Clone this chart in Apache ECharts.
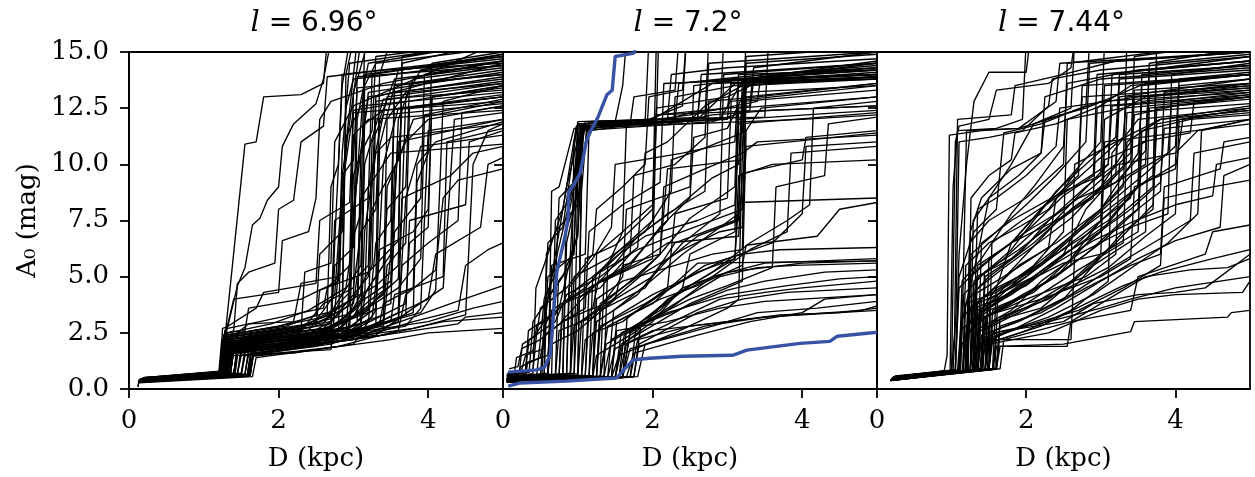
<!DOCTYPE html>
<html>
<head>
<meta charset="utf-8">
<script src="https://cdn.jsdelivr.net/npm/echarts@6/dist/echarts.min.js"></script>
<style>html,body{margin:0;padding:0;background:#fff;}#c{width:1255px;height:477px;}</style>
</head>
<body>
<div id="c"></div>
<script>
// ---- data (flat x,y pairs per line: D in kpc, A0 in mag) ----
const panelLongitudes = ['6.96', '7.2', '7.44'];
const xLabel = 'D (kpc)';
const yLabel = 'A\u2080 (mag)';

const p1Lines = [
[0.12,0.10,0.13,0.30,1.20,0.65,1.24,1.45,2.70,1.75,2.78,4.5,2.92,11.5,3.05,15.5],
[0.15,0.40,1.30,0.70,1.36,1.80,2.50,2.10,2.95,2.60,3.00,8.0,3.20,13.2,5.0,14.1],
[0.18,0.45,1.22,0.75,1.28,2.20,1.55,10.9,1.70,11.0,1.80,13.0,2.30,13.1,2.60,13.6,2.65,15.5],
[0.13,0.35,1.60,0.60,1.65,1.50,2.20,1.60,3.00,2.00,3.30,3.5,3.40,10.0,3.60,12.5,5.0,13.0],
[0.20,0.50,1.25,0.80,1.30,2.50,1.45,4.6,1.55,5.4,1.65,7.3,1.75,7.6,1.85,8.4,2.00,9.0,2.05,10.8,2.20,11.8,2.50,12.7,2.60,13.8,2.70,15.5],
[0.14,0.38,1.40,0.65,1.45,2.00,2.90,2.40,2.95,5.0,3.05,9.5,3.15,14.0,5.0,14.8],
[0.16,0.42,1.20,0.72,1.26,1.60,2.00,1.90,3.40,2.80,3.50,6.0,3.60,11.0,5.0,12.0],
[0.12,0.10,0.13,0.28,1.65,0.55,1.70,1.40,3.50,2.20,4.00,2.50,5.0,2.70],
[0.15,0.33,1.28,0.66,1.32,1.55,3.20,2.30,4.40,2.90,4.50,3.2,5.0,3.4],
[0.18,0.48,1.22,0.70,1.27,1.90,2.40,2.60,2.60,3.5,2.75,4.2,2.85,9.0,3.00,12.4,5.0,13.5],
[0.13,0.40,1.35,0.75,1.38,2.30,1.60,2.9,2.20,3.0,2.30,4.7,2.80,5.0,2.85,9.5,3.10,15.5],
[0.17,0.36,1.50,0.70,1.56,1.70,2.80,2.10,3.10,2.60,3.15,7.0,3.30,10.5,3.50,11.2,5.0,11.8],
[0.14,0.45,1.25,0.78,1.30,2.40,2.00,2.8,2.60,3.2,3.00,4.0,3.05,12.0,3.20,14.5,5.0,15.5],
[0.19,0.50,1.30,0.72,1.34,1.65,3.00,2.20,3.60,3.00,3.70,8.5,3.90,10.8,5.0,11.3],
[0.12,0.30,1.28,0.65,1.33,1.95,2.70,2.45,2.75,6.5,2.85,13.5,2.95,15.5],
[0.15,0.42,1.22,0.70,1.25,2.70,1.30,2.75,1.70,3.6,1.80,4.3,2.50,4.7,2.55,7.5,2.95,8.3,3.00,12.3,5.0,12.8],
[0.16,0.38,1.45,0.68,1.50,1.50,3.30,2.40,3.80,3.6,4.20,4.5,4.30,9.5,4.60,10.5,5.0,10.8],
[0.13,0.35,1.25,0.70,1.30,1.80,2.20,2.10,2.70,3.0,3.20,5.0,3.30,13.0,5.0,14.5],
[0.20,0.46,1.35,0.74,1.40,2.10,2.50,2.50,3.50,3.80,3.60,12.0,3.80,13.8,5.0,14.3],
[0.14,0.40,1.60,0.62,1.68,1.70,2.60,2.00,2.90,3.0,3.10,4.2,3.15,10.0,3.40,12.9,5.0,13.3],
[0.17,0.44,1.25,0.76,1.28,2.00,2.00,2.3,2.90,2.7,3.40,3.3,3.45,5.5,3.70,6.5,3.75,12.5,5.0,13.0],
[0.12,0.32,1.30,0.66,1.35,1.60,3.80,2.70,4.50,3.3,4.60,10.0,4.80,11.5,5.0,11.8],
[0.15,0.40,1.20,0.70,1.24,2.20,2.30,2.6,2.35,5.2,2.70,5.6,2.75,11.0,3.00,12.6,5.0,15.5],
[0.18,0.48,1.40,0.70,1.45,1.70,2.40,2.0,2.80,2.5,2.85,9.5,3.00,10.2,3.05,13.4,5.0,14.0],
[0.13,0.36,1.28,0.72,1.32,2.35,1.60,2.5,2.40,2.9,3.30,4.6,3.35,14.0,3.50,15.5],
[0.16,0.42,1.25,0.68,1.29,1.80,3.10,2.6,4.00,4.0,4.10,6.0,4.70,7.2,4.80,10.0,5.0,10.3],
[0.14,0.38,1.55,0.66,1.60,1.55,2.90,2.2,3.00,4.0,3.25,5.5,3.30,12.8,5.0,13.6],
[0.19,0.50,1.27,0.78,1.30,2.60,1.40,4.0,2.00,4.3,2.05,6.6,2.40,7.0,2.50,8.5,2.55,12.0,2.70,12.8,3.40,13.6,5.0,14.6],
[0.12,0.30,1.62,0.58,1.66,1.45,2.80,1.90,3.60,2.60,3.70,4.2,4.10,5.3,4.20,8.5,4.40,9.3,5.0,9.8],
[0.15,0.44,1.30,0.70,1.33,1.90,2.50,2.30,3.00,3.5,3.50,6.0,3.55,13.2,5.0,13.8],
[0.17,0.40,1.22,0.74,1.27,2.10,2.10,2.5,2.70,3.2,2.75,7.5,3.20,8.5,3.25,14.0,5.0,14.9],
[0.13,0.34,1.35,0.66,1.40,1.70,3.20,2.50,3.80,3.2,4.30,3.8,5.0,4.6],
[0.16,0.45,1.26,0.72,1.31,2.20,2.60,2.7,2.95,3.8,3.00,11.3,3.20,12.0,5.0,12.4],
[0.14,0.38,1.45,0.68,1.50,1.85,2.70,2.3,3.40,3.0,3.45,9.0,3.70,11.0,4.00,12.0,5.0,12.6],
[0.18,0.46,1.24,0.76,1.28,2.50,1.55,2.6,1.60,3.6,2.30,4.0,2.80,4.8,2.85,10.5,2.95,14.5,5.0,15.5],
[0.12,0.32,1.28,0.64,1.32,1.75,3.00,2.30,3.30,2.8,3.35,10.8,3.60,14.2,5.0,14.7],
[0.15,0.42,1.32,0.72,1.36,2.00,2.40,2.4,3.10,3.4,3.60,4.5,3.90,5.8,3.95,12.2,5.0,12.9],
[0.17,0.40,1.58,0.62,1.63,1.60,2.50,1.90,3.00,2.5,3.70,3.3,3.75,7.5,4.50,8.2,4.55,11.0,5.0,11.5],
[0.13,0.36,1.21,0.70,1.25,1.70,1.90,1.95,2.85,2.6,2.90,14.0,3.00,15.5],
[0.19,0.48,1.29,0.74,1.34,2.30,2.20,2.70,2.90,3.3,3.15,4.0,3.20,9.0,3.45,13.0,5.0,13.7],
[0.14,0.40,1.40,0.68,1.44,1.60,2.30,2.0,3.70,2.80,3.90,3.6,4.00,11.5,5.0,12.0],
[0.16,0.44,1.23,0.75,1.27,2.00,2.30,2.6,2.60,3.8,3.00,4.5,3.10,7.0,3.30,8.0,3.35,12.0,3.55,13.8,5.0,14.4],
[0.12,0.30,1.50,0.60,1.55,1.50,3.40,2.40,4.20,3.0,5.0,3.2],
[0.15,0.38,1.26,0.70,1.30,2.10,2.00,2.4,2.60,2.9,3.10,5.5,3.15,11.8,3.40,12.4,5.0,13.1],
[0.17,0.42,1.30,0.72,1.35,1.90,2.40,2.3,3.20,3.0,3.30,6.5,3.50,7.5,3.55,13.5,5.0,14.0],
[0.13,0.34,1.22,0.68,1.26,2.40,1.40,2.6,1.45,4.7,1.60,5.2,1.95,5.6,2.00,8.0,2.20,8.4,2.30,11.0,2.60,11.7,2.65,13.9,3.40,14.2,5.0,14.5],
[0.18,0.46,1.36,0.70,1.40,1.80,2.80,2.3,3.05,3.0,3.10,8.5,3.30,9.5,3.50,10.5,5.0,10.9],
[0.14,0.40,1.28,0.74,1.32,2.20,2.50,2.8,2.55,4.4,3.20,5.2,3.60,6.6,3.65,14.8,5.0,15.5],
[0.16,0.36,1.62,0.64,1.67,1.75,2.40,2.0,3.90,3.4,4.10,4.4,4.20,12.8,5.0,13.5],
[0.20,0.50,1.24,0.78,1.28,2.60,1.32,2.7,2.60,3.6,2.65,4.5,2.95,5.5,3.00,13.2,3.20,15.5],
[0.14,0.40,1.27,0.70,1.31,2.00,2.60,2.5,3.00,3.2,3.20,4.5,3.40,5.5,3.45,8.0,3.70,9.0,3.75,13.6,5.0,14.2],
[0.16,0.44,1.33,0.72,1.37,1.90,2.80,2.4,3.30,3.6,3.35,6.2,3.80,7.0,4.00,8.0,4.05,13.0,5.0,13.4],
[0.13,0.36,1.25,0.68,1.29,2.20,2.20,2.7,2.85,3.5,2.90,12.5,3.00,13.8,5.0,14.6],
[0.18,0.48,1.60,0.66,1.64,1.80,2.90,2.5,3.25,3.2,3.30,4.6,3.60,5.5,3.65,14.5,5.0,15.5],
[0.15,0.38,1.30,0.70,1.34,1.70,2.40,2.2,3.10,2.9,3.15,4.0,3.50,4.8,3.55,9.8,3.80,12.0,5.0,12.8],
[0.12,0.32,1.24,0.66,1.28,2.30,1.90,2.6,2.70,3.0,2.75,5.5,3.00,6.3,3.05,13.9,5.0,14.4],
[0.17,0.42,1.45,0.70,1.50,1.60,2.60,2.1,3.60,3.1,3.65,5.5,4.00,6.5,4.40,7.5,4.45,12.3,5.0,12.6],
[0.14,0.38,1.28,0.72,1.32,2.50,1.90,2.9,2.40,3.5,2.90,4.5,3.00,6.8,3.10,7.8,3.15,15.5],
[0.19,0.46,1.35,0.74,1.39,2.10,2.80,2.6,3.20,3.9,3.50,4.6,3.55,7.0,3.90,8.5,3.95,14.0,5.0,14.6],
[0.13,0.34,1.62,0.62,1.66,1.60,3.00,2.20,3.80,3.00,4.40,3.5,4.50,5.5,4.80,6.2,5.0,6.5],
[0.16,0.40,1.25,0.70,1.30,1.90,2.30,2.3,2.95,3.1,3.40,4.2,3.45,12.0,3.70,13.2,5.0,13.6],
[0.15,0.42,1.30,0.74,1.34,2.20,2.70,2.7,3.05,3.6,3.10,10.5,3.25,11.5,3.30,14.8,5.0,15.5],
[0.12,0.30,1.40,0.64,1.45,1.70,2.90,2.3,3.50,3.0,3.55,4.2,4.20,5.0,4.25,11.0,5.0,11.6],
[0.18,0.46,1.23,0.76,1.27,2.40,2.10,2.8,2.50,3.3,2.55,6.0,2.85,7.0,2.90,11.2,3.10,12.6,5.0,13.2],
[0.14,0.36,1.55,0.66,1.60,1.80,3.10,2.6,3.60,3.4,3.70,13.0,3.90,14.2,5.0,14.9],
[0.16,0.44,1.28,0.72,1.32,2.10,2.60,2.6,3.20,3.5,3.25,8.0,3.40,9.0,3.60,10.2,3.65,12.5,5.0,13.0],
[0.13,0.38,1.35,0.68,1.40,1.60,2.40,2.0,3.35,2.9,3.40,3.8,3.80,4.5,3.85,10.0,4.10,11.0,5.0,11.9],
[0.17,0.40,1.22,0.74,1.26,2.00,1.80,2.4,2.70,2.9,2.80,3.8,2.95,4.3,3.00,9.5,3.10,10.5,3.20,13.0,5.0,13.9],
[0.15,0.36,1.50,0.68,1.55,1.75,2.80,2.3,3.70,3.8,3.75,6.5,4.00,7.2,4.05,13.0,5.0,13.5],
[0.19,0.48,1.26,0.76,1.30,2.30,2.50,2.9,3.00,3.8,3.05,5.0,3.20,5.5,3.25,11.0,3.40,12.2,5.0,12.7],
[0.13,0.34,1.30,0.66,1.35,1.80,2.90,2.4,3.10,2.8,3.15,13.5,3.30,14.5,5.0,15.2],
[0.16,0.42,1.42,0.70,1.47,2.00,3.00,2.8,3.30,4.0,3.60,4.9,3.65,8.5,4.30,9.5,4.35,12.0,5.0,12.3],
[0.14,0.40,1.27,0.72,1.31,2.40,2.00,2.8,2.65,3.4,2.70,9.0,2.80,10.0,2.85,14.0,5.0,14.8],
[0.18,0.44,1.36,0.72,1.40,1.90,3.30,2.8,3.80,3.4,3.85,9.2,4.00,10.5,4.05,14.5,5.0,15.0],
[0.12,0.30,1.58,0.60,1.62,1.50,2.70,2.0,3.20,2.6,4.00,3.0,4.60,3.6,5.0,3.9]
];

const p2Lines = [
[0.05,0.35,0.55,0.50,0.58,3.5,0.62,4.5,0.90,8.5,1.05,11.6,2.60,12.0,2.65,13.7,5.0,14.2],
[0.06,0.40,0.85,0.55,0.90,6.0,1.00,11.8,2.05,11.9,2.08,15.5],
[0.08,0.90,0.20,1.00,0.25,1.80,0.50,2.2,0.55,4.0,0.75,5.5,0.95,9.0,1.10,11.7,3.00,12.0,3.05,13.8,5.0,14.0],
[0.05,0.30,1.50,0.50,1.60,2.0,2.00,3.0,2.40,4.5,2.50,6.0,3.10,7.0,3.15,12.5,5.0,13.0],
[0.07,0.45,1.20,0.55,1.25,1.50,1.80,2.60,2.20,4.0,2.80,5.0,3.50,5.6,5.0,5.8],
[0.05,0.50,0.60,0.60,0.65,5.5,1.10,6.0,1.15,11.5,1.80,11.8,2.40,12.6,2.45,15.5],
[0.06,0.38,1.60,0.55,1.70,1.80,2.80,2.8,3.40,3.4,4.20,3.6,5.0,3.9],
[0.08,0.60,0.40,0.80,0.45,2.5,0.55,3.0,0.60,6.5,0.80,7.2,1.00,11.9,3.20,12.1,3.25,15.5],
[0.05,0.32,1.45,0.50,1.55,1.5,2.30,2.5,3.00,3.6,3.15,4.0,3.20,10.5,3.40,11.0,5.0,11.3],
[0.06,0.42,0.70,0.55,0.75,2.6,1.20,3.2,1.60,5.0,1.65,8.0,2.50,9.0,2.55,13.5,5.0,14.5],
[0.07,0.35,1.50,0.52,1.58,2.5,2.20,3.4,3.00,4.2,3.80,4.6,4.50,4.9,5.0,5.0],
[0.05,0.55,0.95,0.70,1.00,9.5,1.08,11.8,2.40,11.9,2.80,12.2,3.60,12.4,5.0,12.6],
[0.08,0.45,1.20,0.60,1.25,3.0,1.80,4.2,2.10,5.5,2.60,6.8,3.15,7.5,3.20,13.8,5.0,14.3],
[0.06,0.30,1.70,0.52,1.80,2.2,2.50,2.8,3.50,3.2,5.0,3.5],
[0.05,0.40,0.52,0.55,0.56,3.8,0.70,4.6,0.75,8.5,0.95,9.2,1.05,11.7,1.90,11.9,1.95,15.5],
[0.07,0.50,1.10,0.62,1.15,4.5,1.70,5.5,2.10,7.2,2.50,8.5,2.55,11.2,3.00,11.6,3.30,13.7,5.0,14.0],
[0.06,0.36,1.30,0.55,1.40,2.8,2.00,3.8,2.60,5.6,5.0,5.7],
[0.05,0.65,0.30,0.80,0.35,2.2,0.70,3.0,0.85,4.2,1.30,5.0,1.80,6.3,1.90,10.5,2.20,11.0,2.70,12.6,3.20,13.5,5.0,13.8],
[0.08,0.38,1.55,0.55,1.65,2.0,2.40,3.2,2.90,4.0,3.50,4.3,4.00,4.5,5.0,4.8],
[0.05,0.45,0.80,0.60,0.85,6.5,0.95,8.0,1.05,11.5,1.40,11.7,2.90,12.0,2.95,15.5],
[0.06,0.33,1.25,0.52,1.30,3.5,1.90,4.5,2.30,6.5,3.10,7.5,3.15,11.8,5.0,12.3],
[0.07,0.55,0.60,0.70,0.65,2.0,1.00,2.6,1.50,4.0,1.60,5.5,2.10,6.0,2.20,9.8,3.20,10.2,3.25,13.8,5.0,14.6],
[0.05,0.30,1.60,0.50,1.70,2.5,2.20,3.5,2.80,5.0,3.30,6.2,3.80,7.0,3.85,10.5,5.0,10.8],
[0.06,0.42,1.05,0.58,1.10,5.8,1.50,6.4,2.00,8.0,2.05,15.5],
[0.08,0.48,0.90,0.62,0.95,11.0,1.00,11.7,2.10,11.9,2.50,12.3,3.30,12.6,3.35,14.3,5.0,15.0],
[0.05,0.36,1.40,0.54,1.50,1.8,2.00,2.6,3.00,3.0,3.70,3.3,4.50,3.4,5.0,3.6],
[0.07,0.40,1.20,0.58,1.25,4.0,1.60,4.8,2.20,5.4,2.80,6.0,3.20,6.2,3.25,13.5,5.0,13.9],
[0.06,0.70,0.25,0.85,0.30,1.5,0.55,1.8,0.60,5.0,0.95,6.0,1.00,11.8,2.20,12.0,2.25,14.0,3.00,14.3,5.0,14.7],
[0.05,0.34,1.75,0.55,1.85,3.0,2.50,4.6,3.10,5.8,3.15,9.5,3.60,10.0,5.0,10.2],
[0.08,0.45,1.15,0.60,1.20,2.5,1.60,3.0,2.20,4.5,2.30,7.8,3.00,8.5,3.05,12.8,5.0,13.5],
[0.06,0.52,0.65,0.65,0.70,7.5,0.90,8.5,1.10,11.9,3.50,12.1,3.55,15.5],
[0.05,0.38,1.35,0.55,1.45,2.2,2.10,3.5,2.40,4.5,3.00,5.2,4.00,5.6,5.0,5.7],
[0.07,0.42,0.75,0.58,0.80,3.8,1.30,4.5,1.70,6.0,1.75,9.5,2.30,10.0,2.70,11.2,2.75,14.5,5.0,15.0],
[0.05,0.30,1.65,0.52,1.75,1.6,2.60,2.4,3.30,3.0,4.00,3.4,4.30,4.0,5.0,4.2],
[0.06,0.55,1.00,0.68,1.05,8.8,1.12,11.7,1.70,11.8,1.75,13.0,2.30,13.3,2.35,15.5],
[0.08,0.36,1.25,0.54,1.30,2.8,1.90,3.8,2.60,5.2,3.10,5.8,3.15,8.3,5.0,8.5],
[0.05,0.44,0.50,0.58,0.55,2.8,0.62,3.2,0.65,8.8,0.75,9.0,0.95,11.6,4.00,12.0,5.0,12.2],
[0.07,0.33,1.50,0.52,1.58,2.0,2.50,3.8,3.20,4.8,3.25,11.5,3.45,12.5,5.0,13.0],
[0.06,0.48,1.10,0.60,1.15,3.5,1.50,4.0,2.00,5.0,2.40,6.5,2.90,7.8,2.95,14.0,5.0,14.5],
[0.05,0.40,0.90,0.56,0.95,5.0,1.40,5.8,1.90,7.0,2.25,8.8,2.30,13.0,3.10,13.5,5.0,13.9],
[0.08,0.50,0.45,0.62,0.50,2.2,0.80,3.0,1.20,3.6,1.30,5.2,1.80,6.2,2.40,7.0,3.20,8.0,3.25,13.0,5.0,13.6],
[0.06,0.35,1.60,0.54,1.70,2.6,2.30,4.2,2.80,5.2,3.30,6.5,3.80,7.5,4.10,8.2,4.15,12.5,5.0,12.8],
[0.05,0.46,1.00,0.60,1.05,10.0,1.15,11.9,2.70,12.1,2.75,15.5],
[0.07,0.38,1.30,0.56,1.35,4.8,1.80,5.6,2.20,6.5,3.15,6.8,3.20,9.6,4.00,10.2,4.05,11.2,5.0,11.5],
[0.06,0.42,0.85,0.60,0.88,4.5,1.20,5.8,1.45,7.2,1.50,10.0,2.40,10.5,3.10,11.0,3.15,14.0,5.0,14.2],
[0.05,0.32,1.80,0.55,1.90,2.0,2.70,2.8,3.50,3.2,4.80,3.5,5.0,3.7],
[0.08,0.60,0.35,0.75,0.40,3.0,0.60,4.0,0.85,9.0,1.05,11.8,1.50,11.9,1.60,13.5,1.65,15.5],
[0.06,0.40,1.20,0.56,1.25,6.0,1.60,7.0,2.00,8.2,2.05,12.5,3.00,13.0,3.50,13.8,5.0,14.0],
[0.05,0.36,1.45,0.55,1.52,3.0,2.10,4.0,2.60,4.6,3.20,5.5,3.25,6.4,4.20,6.8,4.50,8.0,5.0,8.3],
[0.07,0.48,0.60,0.62,0.63,4.2,0.80,5.0,1.00,6.8,1.05,11.5,2.80,11.9,3.30,12.4,3.35,13.7,5.0,13.8],
[0.06,0.50,0.15,0.60,0.18,1.4,0.40,1.7,0.45,2.8,0.70,3.4,1.00,4.5,1.40,5.5,1.60,7.0,1.65,11.8,2.60,12.0,3.10,13.6,5.0,13.8],
[0.05,0.42,0.30,0.55,0.33,1.2,0.60,1.5,0.65,3.5,1.10,4.5,1.50,6.0,2.00,7.5,2.05,12.2,5.0,12.6],
[0.07,0.38,1.40,0.52,1.48,3.5,1.90,4.6,2.40,6.0,2.90,7.2,3.15,7.8,3.20,12.8,5.0,13.3],
[0.05,0.60,0.20,0.70,0.24,1.0,0.50,1.4,0.55,2.4,0.80,3.0,1.10,3.6,1.15,7.0,1.60,8.2,2.10,9.2,2.15,13.6,5.0,14.0],
[0.06,0.34,1.55,0.52,1.62,2.4,2.30,3.8,2.90,5.0,3.40,5.4,3.90,5.5,5.0,5.6],
[0.08,0.45,0.70,0.58,0.74,4.8,0.90,5.5,1.00,7.0,1.08,11.6,2.30,11.9,2.35,13.6,3.20,13.9,5.0,14.4],
[0.05,0.40,1.00,0.58,1.05,3.0,1.40,3.8,1.90,5.2,2.40,6.2,2.90,7.0,3.20,7.2,3.25,10.8,5.0,11.4],
[0.07,0.52,0.55,0.64,0.58,6.0,0.70,7.0,1.00,8.2,1.08,11.8,2.00,12.0,2.80,13.6,5.0,13.9],
[0.06,0.36,1.70,0.54,1.78,2.8,2.50,4.0,3.00,4.6,3.60,5.4,3.65,9.0,4.30,9.5,4.35,11.8,5.0,12.1],
[0.05,0.44,0.95,0.60,1.00,4.0,1.30,4.8,1.70,5.6,2.20,7.5,2.25,10.2,2.60,10.6,3.20,11.4,3.25,14.8,5.0,15.2],
[0.08,0.70,0.22,0.80,0.26,2.0,0.45,2.4,0.50,3.6,0.85,4.5,1.20,6.0,1.25,8.0,1.60,9.0,1.90,10.0,1.95,13.0,2.40,13.3,2.45,15.5],
[0.06,0.38,1.30,0.56,1.38,2.0,1.80,2.8,2.40,3.6,3.00,4.4,3.50,4.8,4.30,5.2,5.0,5.3],
[0.05,0.48,0.75,0.60,0.78,3.0,1.00,3.8,1.35,5.0,1.80,6.8,2.30,8.0,2.80,9.4,3.15,10.0,3.20,13.2,5.0,13.5],
[0.07,0.42,1.15,0.58,1.20,5.0,1.55,6.0,1.90,6.8,2.60,7.5,3.10,8.2,3.15,12.0,4.50,12.3,5.0,12.4],
[0.06,0.55,0.40,0.68,0.44,4.5,0.60,6.0,0.80,8.0,0.98,11.7,2.20,11.8,2.60,12.0,2.65,14.0,5.0,14.5],
[0.05,0.35,1.60,0.54,1.66,3.2,2.20,4.4,2.70,5.5,3.20,6.0,3.70,6.2,5.0,6.3],
[0.08,0.46,0.90,0.60,0.95,2.8,1.20,3.4,1.70,4.8,2.10,6.0,2.50,7.6,3.10,9.0,3.15,13.8,5.0,14.2],
[0.06,0.40,1.25,0.56,1.30,3.8,1.80,5.0,2.10,6.0,2.15,9.0,2.70,9.8,3.20,10.5,3.25,14.5,5.0,14.9],
[0.05,0.62,0.30,0.74,0.34,2.6,0.60,3.2,0.90,4.0,1.20,4.6,1.60,5.2,2.00,5.8,2.05,12.2,3.00,12.5,3.05,13.6,5.0,13.9],
[0.07,0.36,1.45,0.54,1.52,2.6,2.20,3.0,2.90,3.6,3.50,3.9,4.50,4.1,5.0,4.2],
[0.06,0.50,0.80,0.62,0.84,7.0,0.98,8.5,1.06,11.7,1.60,11.8,2.50,12.2,3.40,12.8,3.45,14.0,5.0,14.3],
[0.05,0.40,1.05,0.58,1.10,2.2,1.50,3.2,2.00,4.2,2.50,5.0,3.00,5.8,3.60,6.5,4.00,7.8,4.05,10.8,5.0,11.0],
[0.08,0.44,1.35,0.58,1.40,5.5,1.70,6.5,2.20,7.8,2.70,8.8,2.75,12.8,3.40,13.0,5.0,13.6],
[0.06,0.32,1.75,0.54,1.82,2.0,2.60,3.4,3.20,4.0,3.80,4.3,5.0,4.5],
[0.05,0.58,0.60,0.66,0.64,3.0,0.75,3.6,0.95,6.5,1.02,11.8,2.90,12.0,3.20,13.7,5.0,14.1]
];

const p3Lines = [
[0.20,0.45,0.90,0.80,0.94,1.5,0.97,11.3,1.40,11.5,1.90,11.6,2.40,12.8,2.45,14.5,5.0,15.0],
[0.22,0.55,1.10,0.85,1.15,4.0,1.20,11.5,1.90,11.6,2.30,12.0,3.00,12.8,5.0,13.2],
[0.18,0.40,1.25,0.80,1.30,3.0,1.60,4.5,1.80,6.5,2.20,8.0,2.70,9.5,2.75,13.0,5.0,13.5],
[0.20,0.50,1.40,0.90,1.45,2.0,2.00,2.6,2.60,3.5,3.10,4.8,3.15,10.5,3.50,12.0,5.0,12.5],
[0.25,0.58,1.05,0.85,1.10,6.0,1.20,10.0,1.30,12.8,1.50,14.1,2.00,14.1,2.05,15.5],
[0.19,0.42,1.50,0.85,1.55,2.2,2.60,2.2,2.65,6.0,3.00,7.0,3.50,9.0,3.55,13.5,5.0,14.0],
[0.21,0.52,1.20,0.82,1.25,5.0,1.60,6.0,2.00,7.0,2.50,8.6,2.90,9.5,2.95,14.0,5.0,14.6],
[0.18,0.38,1.60,0.90,1.65,1.9,2.55,1.9,2.60,3.0,3.40,3.5,3.50,5.0,4.40,6.0,4.50,7.0,5.0,7.3],
[0.22,0.50,1.30,0.85,1.35,3.5,1.90,4.5,2.50,6.0,2.80,8.0,3.20,9.5,3.25,13.0,5.0,13.8],
[0.20,0.46,1.15,0.80,1.20,2.5,1.50,3.3,2.20,4.0,3.00,5.0,3.40,5.8,3.45,9.0,4.00,9.8,4.10,12.0,5.0,12.5],
[0.24,0.56,1.00,0.82,1.05,11.0,1.10,11.7,1.50,12.0,1.60,13.3,2.30,13.6,2.60,14.3,2.65,15.5],
[0.19,0.44,1.45,0.88,1.50,2.8,2.00,3.8,2.70,5.3,3.30,6.5,3.35,11.0,3.80,12.0,5.0,12.6],
[0.21,0.48,1.25,0.80,1.30,4.2,1.70,5.0,2.30,6.3,2.40,8.5,3.10,10.0,3.15,14.0,5.0,14.8],
[0.18,0.40,1.55,0.86,1.60,1.9,2.50,2.0,3.40,2.55,3.45,3.0,4.70,3.2,4.75,3.4,5.0,3.5],
[0.23,0.54,1.10,0.84,1.14,3.0,1.35,6.0,1.50,8.5,1.80,10.0,2.10,11.8,2.60,12.5,2.65,15.5],
[0.20,0.45,1.35,0.85,1.40,2.4,1.90,3.0,2.50,4.0,2.90,5.5,3.30,7.0,3.70,8.0,3.75,12.5,5.0,13.0],
[0.19,0.42,1.30,0.82,1.35,5.5,1.80,6.5,2.40,7.5,2.90,8.5,2.95,12.5,3.40,13.5,5.0,14.0],
[0.22,0.50,1.50,0.88,1.55,2.5,2.50,3.0,2.90,3.8,3.50,4.2,4.00,4.3,4.40,4.5,5.0,6.0],
[0.21,0.47,1.20,0.80,1.25,7.0,1.40,8.5,1.80,9.8,2.20,10.5,2.25,13.0,3.00,13.8,5.0,14.3],
[0.18,0.38,1.65,0.90,1.70,2.2,2.60,3.0,3.10,4.0,3.60,5.0,4.20,5.3,4.70,5.4,5.0,5.8],
[0.24,0.55,1.05,0.84,1.10,4.5,1.40,5.5,1.80,6.5,2.20,8.0,2.60,9.5,3.00,11.0,3.05,15.5],
[0.20,0.44,1.40,0.86,1.45,3.2,2.00,4.0,2.80,5.0,3.20,6.0,3.25,10.0,4.00,10.5,4.30,11.5,5.0,12.0],
[0.19,0.41,1.28,0.82,1.32,2.6,1.80,3.5,2.20,4.8,2.70,6.0,3.40,7.2,3.90,7.8,3.95,14.0,5.0,14.5],
[0.22,0.52,1.15,0.82,1.19,3.8,1.60,4.3,2.10,5.5,2.50,7.0,2.55,12.0,3.30,12.5,5.0,13.0],
[0.21,0.48,1.45,0.87,1.50,2.0,2.30,2.5,3.00,3.5,3.50,4.0,4.00,4.2,4.90,4.3,5.0,4.8],
[0.18,0.40,1.20,0.80,1.24,6.5,1.50,7.5,2.00,8.5,2.50,10.0,2.55,14.5,5.0,15.5],
[0.23,0.54,1.35,0.86,1.40,4.0,1.90,5.0,2.40,6.0,2.80,7.0,3.40,8.5,3.45,13.3,5.0,13.6],
[0.20,0.45,1.60,0.90,1.65,2.8,2.20,3.4,2.80,4.5,3.40,5.5,3.80,6.0,3.85,9.0,4.60,9.8,4.65,11.0,5.0,11.2],
[0.19,0.43,1.10,0.80,1.14,2.0,1.30,2.8,1.35,8.0,1.60,8.5,2.00,9.5,2.40,10.8,2.45,12.5,3.50,13.0,5.0,13.3],
[0.22,0.50,1.25,0.84,1.30,3.0,1.80,3.8,2.40,5.0,3.00,6.5,3.50,8.0,3.55,11.5,4.20,12.0,5.0,12.2],
[0.21,0.47,1.50,0.88,1.55,3.5,2.10,4.3,2.60,5.8,3.00,7.5,3.05,12.0,3.60,13.0,5.0,13.6],
[0.18,0.38,1.30,0.82,1.35,2.2,1.70,2.6,2.30,3.0,3.00,3.6,3.40,4.0,4.00,4.5,4.60,4.8,5.0,5.0],
[0.24,0.56,0.98,0.84,1.02,9.0,1.08,11.5,1.60,11.6,1.95,12.0,2.00,15.5],
[0.20,0.44,1.40,0.86,1.45,5.0,1.90,6.0,2.30,7.5,2.80,9.0,3.20,10.0,3.25,13.8,5.0,14.2],
[0.19,0.42,1.20,0.80,1.25,3.5,1.60,4.0,2.00,5.2,2.60,6.8,3.00,8.0,3.50,10.5,3.55,12.8,5.0,13.3],
[0.22,0.50,1.55,0.88,1.60,4.5,2.20,5.5,2.70,7.0,3.30,8.5,3.70,9.5,3.75,14.5,5.0,14.9],
[0.21,0.48,1.15,0.82,1.20,2.8,1.50,3.5,2.00,4.2,2.60,5.5,2.65,10.0,3.20,11.0,3.80,12.0,5.0,12.4],
[0.18,0.40,1.35,0.84,1.40,6.5,1.80,7.5,2.50,8.8,3.00,9.5,3.05,13.5,5.0,14.0],
[0.23,0.53,1.45,0.86,1.50,2.5,2.00,3.2,2.60,4.2,3.20,5.5,3.70,6.5,4.20,7.5,4.25,10.5,5.0,11.0],
[0.20,0.46,1.05,0.82,1.10,5.0,1.30,7.0,1.60,8.0,1.70,11.4,2.20,11.8,2.80,12.6,2.85,15.5],
[0.19,0.41,1.30,0.84,1.35,3.8,1.80,4.5,2.40,6.0,3.10,7.5,3.50,9.0,4.00,10.0,4.05,13.5,5.0,13.8],
[0.22,0.52,1.60,0.90,1.65,3.2,2.30,4.0,2.90,5.5,3.60,7.0,3.65,12.5,5.0,13.0],
[0.21,0.48,1.25,0.82,1.30,4.8,1.70,5.8,2.10,7.0,2.70,8.5,3.20,9.2,3.60,10.0,3.65,14.5,5.0,15.2],
[0.18,0.38,1.40,0.85,1.45,2.2,2.00,2.8,2.70,3.5,3.30,4.5,3.80,5.5,3.85,8.5,4.50,9.0,5.0,9.3],
[0.24,0.55,1.00,0.83,1.04,2.5,1.08,12.0,1.80,12.2,1.85,13.5,2.50,14.0,3.20,14.6,5.0,15.0],
[0.20,0.45,1.50,0.88,1.55,3.0,2.20,3.6,2.70,5.0,3.20,6.5,3.70,8.2,3.75,11.8,4.40,12.2,5.0,12.4],
[0.19,0.42,1.18,0.80,1.22,4.0,1.50,5.0,2.10,6.5,2.60,8.0,3.00,9.0,3.40,11.0,3.45,13.0,5.0,13.4],
[0.22,0.50,1.35,0.86,1.40,3.4,1.90,4.6,2.50,5.6,3.00,6.0,3.05,11.0,5.0,11.8],
[0.21,0.47,1.45,0.86,1.50,5.8,2.00,7.0,2.50,8.0,2.90,9.0,3.40,10.5,3.45,14.8,5.0,15.5],
[0.18,0.40,1.10,0.80,1.14,3.2,1.40,4.0,1.90,5.5,2.40,6.5,3.00,8.0,3.30,9.0,3.35,12.3,5.0,12.7],
[0.21,0.48,1.12,0.82,1.16,4.2,1.45,5.2,1.80,6.2,2.10,7.5,2.40,8.8,2.80,10.0,3.20,11.2,3.25,14.0,5.0,14.4],
[0.19,0.42,1.32,0.84,1.36,3.0,1.70,3.6,2.20,4.6,2.80,6.0,3.30,7.5,3.80,8.8,3.85,13.2,5.0,13.6],
[0.23,0.54,1.22,0.82,1.26,6.0,1.60,7.0,2.00,8.2,2.40,9.5,2.80,11.0,2.85,14.5,5.0,15.0],
[0.20,0.46,1.48,0.88,1.52,4.0,2.00,5.0,2.50,6.5,3.00,8.0,3.40,9.5,3.90,10.5,3.95,12.8,5.0,13.2],
[0.18,0.40,1.18,0.80,1.22,3.0,1.60,3.8,2.10,5.0,2.50,6.0,3.00,7.0,3.05,10.2,3.60,11.0,3.65,14.2,5.0,14.6],
[0.22,0.52,1.40,0.86,1.44,5.2,1.90,6.2,2.30,7.2,2.70,8.6,3.10,10.0,3.15,12.6,5.0,13.0],
[0.21,0.48,1.08,0.82,1.12,2.6,1.40,3.4,1.70,4.5,2.20,5.5,2.70,7.0,3.20,8.5,3.60,9.6,4.00,10.8,4.05,13.8,5.0,14.1],
[0.19,0.43,1.55,0.88,1.60,2.4,2.30,3.2,2.90,4.2,3.50,5.6,3.90,6.5,4.30,7.8,4.35,11.5,5.0,12.0],
[0.24,0.56,1.25,0.84,1.29,7.5,1.50,8.5,1.90,9.5,2.20,10.5,2.25,12.0,2.80,12.5,3.60,13.6,5.0,14.0],
[0.20,0.45,1.35,0.86,1.39,2.0,1.80,2.6,2.40,3.6,3.00,4.8,3.50,5.8,4.00,6.6,4.60,7.2,4.65,9.5,5.0,10.0],
[0.18,0.40,1.15,0.80,1.19,5.5,1.50,6.5,1.90,7.2,2.30,8.0,2.70,9.8,2.75,13.5,5.0,14.0],
[0.22,0.50,1.45,0.86,1.49,3.8,2.00,4.6,2.60,6.2,3.10,7.8,3.50,9.0,3.55,14.0,5.0,14.4],
[0.21,0.47,1.02,0.82,1.06,3.5,1.10,11.0,1.50,11.2,1.95,11.5,2.30,12.6,2.35,13.8,3.00,14.2,5.0,14.8],
[0.19,0.42,1.28,0.84,1.32,4.4,1.70,5.4,2.20,6.6,2.60,7.6,3.00,9.0,3.40,10.2,3.45,12.2,4.00,12.6,5.0,12.9],
[0.23,0.53,1.38,0.86,1.42,2.6,1.90,3.4,2.50,4.4,3.10,5.4,3.60,6.8,4.00,7.8,4.05,12.0,5.0,12.3],
[0.20,0.44,1.20,0.82,1.24,3.6,1.55,4.4,2.00,6.0,2.40,7.4,2.90,8.6,3.30,9.8,3.35,15.5],
[0.18,0.38,1.50,0.88,1.54,6.5,1.90,7.4,2.40,8.5,2.90,10.0,3.30,11.2,3.35,13.0,5.0,13.4],
[0.22,0.50,1.60,0.90,1.64,2.2,2.20,2.8,2.80,3.8,3.30,4.6,3.80,5.2,4.50,5.8,5.0,6.2],
[0.21,0.48,1.30,0.84,1.34,5.0,1.80,5.8,2.20,7.0,2.70,8.2,3.20,9.2,3.60,10.6,3.65,13.0,5.0,13.5],
[0.19,0.41,1.10,0.80,1.14,4.8,1.40,5.8,1.80,7.8,2.10,9.0,2.50,10.8,2.55,13.6,3.50,14.2,5.0,14.6],
[0.24,0.55,1.42,0.86,1.46,3.2,1.95,4.2,2.40,5.0,2.90,6.8,3.40,8.0,3.80,9.2,3.85,11.6,5.0,12.0],
[0.20,0.46,1.25,0.82,1.29,2.4,1.60,3.0,2.10,3.8,2.60,4.8,3.00,6.0,3.50,7.0,3.55,11.0,4.20,11.4,4.25,12.8,5.0,13.1],
[0.18,0.40,1.58,0.90,1.62,4.2,2.10,5.0,2.60,6.2,3.20,7.6,3.70,9.0,3.75,15.5],
[0.22,0.52,1.22,0.82,1.26,8.5,1.50,9.5,1.80,10.2,1.85,11.4,2.40,11.8,3.00,12.6,5.0,13.1],
[0.21,0.47,1.33,0.84,1.37,3.4,1.80,4.2,2.40,5.6,2.90,6.6,3.40,7.4,4.00,8.2,4.50,8.6,4.55,10.0,5.0,10.3]
];

// two highlighted (blue) profiles in the middle panel
const blueHigh = [0.07,0.75,0.45,0.85,0.55,0.95,0.63,1.5,0.67,3.1,0.72,5.2,0.76,5.8,0.83,6.8,0.87,7.6,0.88,8.8,0.93,9.0,1.03,9.6,1.12,11.1,1.19,11.6,1.27,12.1,1.39,13.1,1.46,13.3,1.50,14.8,1.75,14.95,1.80,15.5];
const blueLow = [0.07,0.13,0.23,0.27,0.85,0.35,1.52,0.49,1.60,0.80,1.74,1.30,1.96,1.37,2.40,1.46,3.07,1.50,3.26,1.73,3.97,2.03,4.37,2.12,4.47,2.35,4.87,2.48,5.0,2.52];

// ---- chart ----
const SERIF = "'DejaVu Serif', serif";
const SANS = "'DejaVu Sans', sans-serif";
const FS = 26;
const panelLeft = [129, 503, 877];
const panelW = [374, 374, 373];
const gTop = 52, gH = 339;

function pairs(flat) { const r = []; for (let i = 0; i < flat.length; i += 2) r.push([flat[i], flat[i + 1]]); return r; }

const grids = [], xAxes = [], yAxes = [], titles = [], series = [];
[p1Lines, p2Lines, p3Lines].forEach((lines, k) => {
  grids.push({ left: panelLeft[k], top: gTop, width: panelW[k], height: gH, show: true, borderColor: '#000', borderWidth: 1.8, backgroundColor: 'transparent' });
  xAxes.push({
    gridIndex: k, type: 'value', min: 0, max: 5, interval: 2,
    name: xLabel, nameLocation: 'middle', nameGap: 57,
    nameTextStyle: { fontFamily: SERIF, fontSize: FS, color: '#000' },
    axisLine: { show: true, onZero: false, lineStyle: { color: '#000', width: 1.8 } },
    axisTick: { show: true, inside: false, length: 9, lineStyle: { color: '#000', width: 1.8 } },
    axisLabel: { show: true, showMaxLabel: false, margin: 19, fontFamily: SERIF, fontSize: FS, color: '#000' },
    splitLine: { show: false }
  });
  yAxes.push({
    gridIndex: k, type: 'value', min: 0, max: 15, interval: 2.5,
    name: k === 0 ? yLabel : '', nameLocation: 'middle', nameGap: 88, nameRotate: 90,
    nameTextStyle: { fontFamily: SERIF, fontSize: FS, color: '#000' },
    axisLine: { show: true, onZero: false, lineStyle: { color: '#000', width: 1.8 } },
    axisTick: { show: true, inside: false, length: 9, lineStyle: { color: '#000', width: 1.8 } },
    axisLabel: { show: k === 0, margin: 20, fontFamily: SERIF, fontSize: FS, color: '#000', formatter: v => v.toFixed(1) },
    splitLine: { show: false }
  });
  titles.push({
    text: '{i|l} = ' + panelLongitudes[k] + '\u00B0',
    left: panelLeft[k] + panelW[k] / 2 - 7, top: 4, textAlign: 'center',
    textStyle: { fontFamily: SANS, fontSize: 28, fontWeight: 'normal', color: '#000',
      rich: { i: { fontFamily: SERIF, fontStyle: 'italic', fontSize: 29, color: '#000' } } }
  });
  lines.forEach(l => series.push({
    type: 'line', xAxisIndex: k, yAxisIndex: k, data: pairs(l), showSymbol: false, symbol: 'none',
    lineStyle: { color: '#000', width: 1.35 }, silent: true, z: 2, clip: true
  }));
});
[blueHigh, blueLow].forEach(b => series.push({
  type: 'line', xAxisIndex: 1, yAxisIndex: 1, data: pairs(b), showSymbol: false, symbol: 'none',
  lineStyle: { color: '#3953a4', width: 3.4 }, silent: true, z: 3, clip: true
}));

const chart = echarts.init(document.getElementById('c'), null, { renderer: 'canvas' });
chart.setOption({
  animation: false, backgroundColor: '#fff',
  title: titles, grid: grids, xAxis: xAxes, yAxis: yAxes, series: series
});
</script>
</body>
</html>
